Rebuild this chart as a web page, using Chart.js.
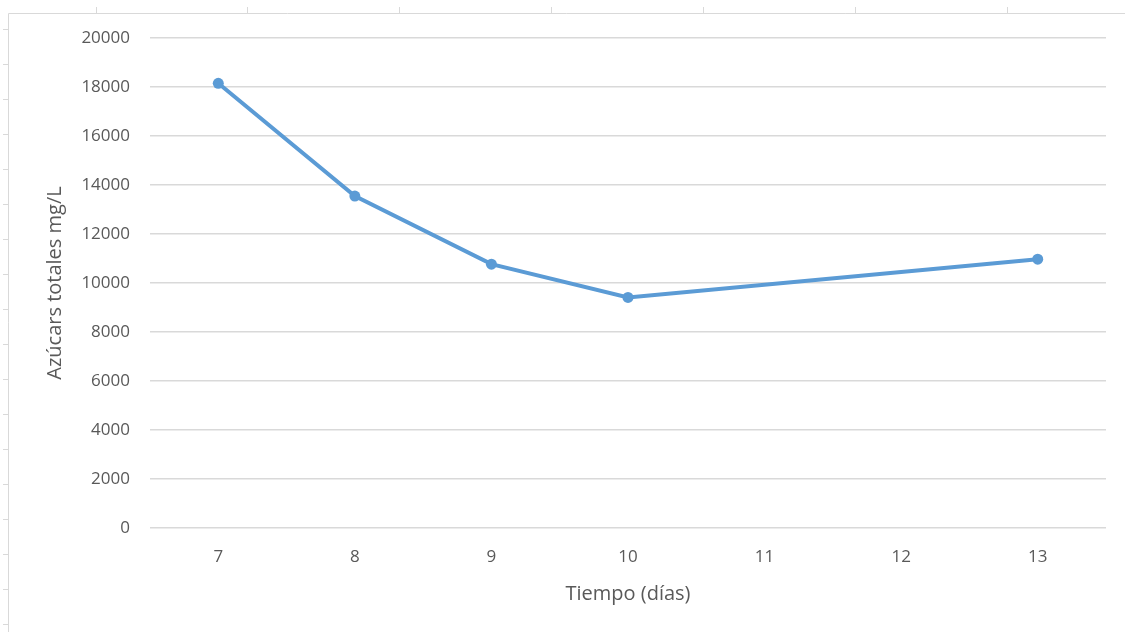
<!DOCTYPE html>
<html>
<head>
<meta charset="utf-8">
<script src="https://cdn.jsdelivr.net/npm/chart.js@4"></script>
<style>
  html, body { margin: 0; padding: 0; background: #ffffff; }
  #wrap { width: 1125px; height: 632px; position: relative; }
</style>
</head>
<body>
<div id="wrap"><canvas id="azucar-chart" width="1125" height="632"></canvas></div>
<script>
// Data
const dias = [7, 8, 9, 10, 13];
const azucares = [18150, 13550, 10770, 9410, 10970];
const xTicks = [7, 8, 9, 10, 11, 12, 13];
const yTicks = [0, 2000, 4000, 6000, 8000, 10000, 12000, 14000, 16000, 18000, 20000];

const textColor = '#595959';
const fontFamily = '"Open Sans", "Liberation Sans", sans-serif';

// Draws the spreadsheet frame around the chart (top and left edge with little marks)
const sheetFrame = {
    id: 'sheetFrame',
    beforeDraw(chart) {
        const ctx = chart.ctx;
        ctx.save();
        ctx.strokeStyle = '#d9d9d9';
        ctx.lineWidth = 1;
        ctx.beginPath();
        ctx.moveTo(8.5, 632);
        ctx.lineTo(8.5, 13.5);
        ctx.lineTo(1125, 13.5);
        [96, 247, 399, 551, 703, 855, 1007].forEach(x => {
            ctx.moveTo(x + 0.5, 13.5);
            ctx.lineTo(x + 0.5, 7);
        });
        for (let y = 29; y < 632; y += 35) {
            ctx.moveTo(8.5, y + 0.5);
            ctx.lineTo(3, y + 0.5);
        }
        ctx.stroke();
        ctx.restore();
    }
};

const chart = new Chart('azucar-chart', {
    type: 'line',
    data: {
        datasets: [{
            data: dias.map((d, i) => ({ x: d, y: azucares[i] })),
            borderColor: '#5B9BD5',
            backgroundColor: '#5B9BD5',
            borderWidth: 4,
            pointRadius: 5.5,
            pointBorderWidth: 0,
            tension: 0,
        }]
    },
    options: {
        responsive: false,
        animation: false,
        layout: { padding: { left: 38, right: 19, top: 38, bottom: 26 } },
        plugins: {
            legend: { display: false },
            tooltip: { enabled: false }
        },
        scales: {
            x: {
                type: 'linear',
                min: 6.5,
                max: 13.5,
                afterBuildTicks: scale => { scale.ticks = xTicks.map(v => ({ value: v })); },
                afterFit: scale => { scale.height = 78; },
                grid: { display: false },
                border: { display: false },
                ticks: {
                    color: textColor,
                    font: { family: fontFamily, size: 17 },
                    padding: 11,
                    maxRotation: 0,
                    callback: v => String(v)
                },
                title: {
                    display: true,
                    text: 'Tiempo (días)',
                    color: textColor,
                    font: { family: fontFamily, size: 20 },
                    padding: 0
                }
            },
            y: {
                min: 0,
                max: 20000,
                afterBuildTicks: scale => { scale.ticks = yTicks.map(v => ({ value: v })); },
                afterFit: scale => { scale.width = 112; },
                grid: { color: '#d9d9d9', lineWidth: 1.5, drawTicks: false },
                border: { display: false },
                ticks: {
                    color: textColor,
                    font: { family: fontFamily, size: 17 },
                    padding: 20,
                    callback: v => String(v)
                },
                title: {
                    display: true,
                    text: 'Azúcars totales mg/L',
                    color: textColor,
                    font: { family: fontFamily, size: 20 },
                    padding: { top: 5, bottom: 0 }
                }
            }
        }
    },
    plugins: [sheetFrame]
});
</script>
</body>
</html>
